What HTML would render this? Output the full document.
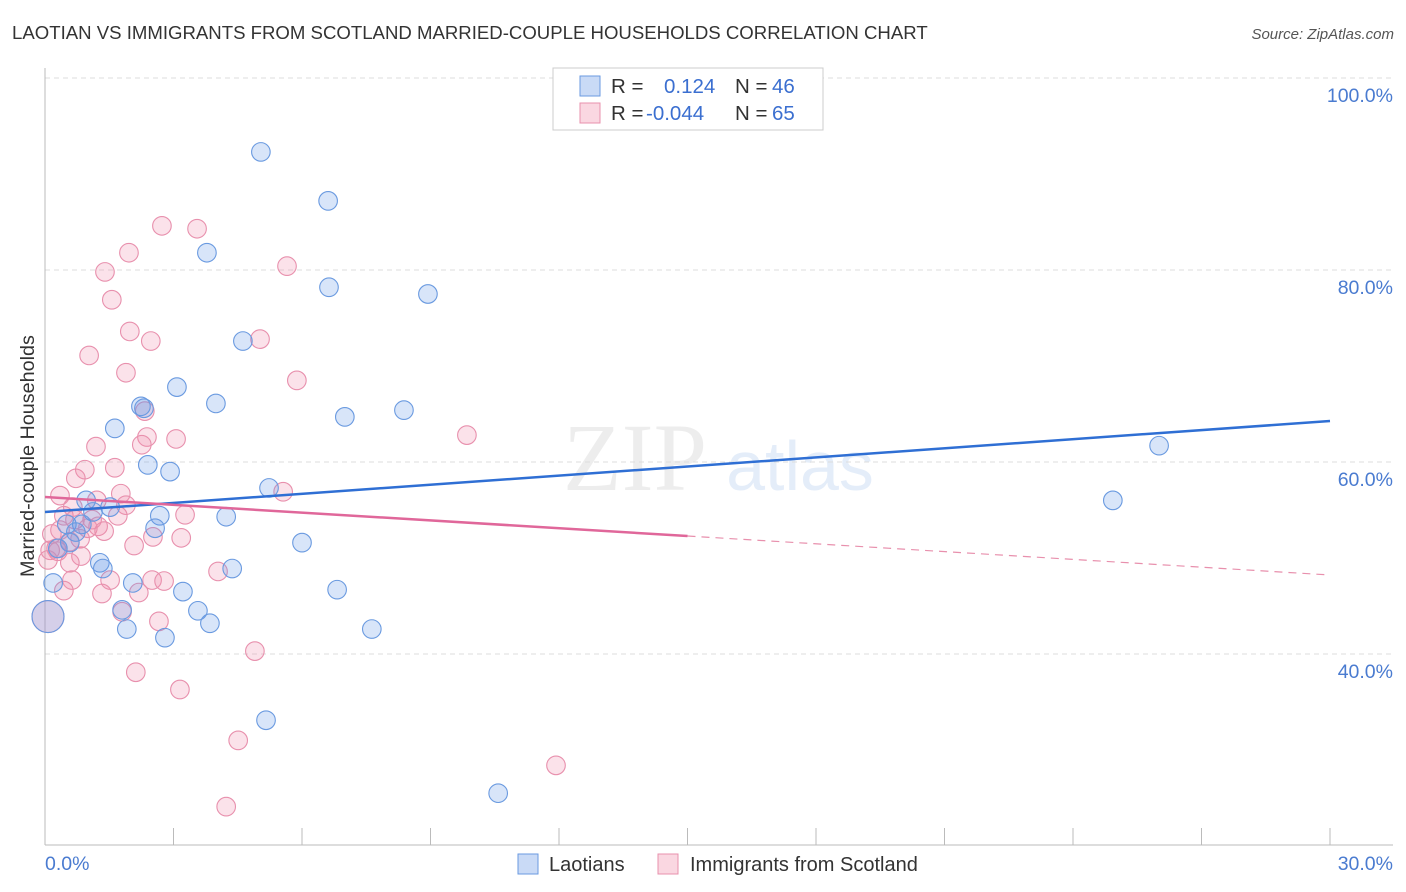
<!DOCTYPE html>
<html><head><meta charset="utf-8">
<style>
body{margin:0;background:#fff;font-family:"Liberation Sans",sans-serif;}
#wrap{position:relative;width:1406px;height:892px;overflow:hidden;}
</style></head>
<body>
<div id="wrap">
<svg id="svg" width="1406" height="892" xmlns="http://www.w3.org/2000/svg">
<text x="12" y="39" font-size="18.6" fill="#333">LAOTIAN VS IMMIGRANTS FROM SCOTLAND MARRIED-COUPLE HOUSEHOLDS CORRELATION CHART</text>
<text x="1394" y="39" font-size="15" fill="#555" font-style="italic" text-anchor="end">Source: ZipAtlas.com</text>
<text transform="translate(34,456) rotate(-90)" font-size="19.8" fill="#333" text-anchor="middle">Married-couple Households</text>
<g>
<text x="635" y="490" font-size="96" fill="#000" fill-opacity="0.07" font-family="Liberation Serif,serif" text-anchor="middle">ZIP</text>
<text x="800" y="490" font-size="70" fill="#6a9be0" fill-opacity="0.18" text-anchor="middle">atlas</text>
</g>
<g id="grid"></g>
<g id="axes"></g>
<g id="pts"></g>
<g id="lines"></g>
<g>
<rect x="553" y="68" width="270" height="62" fill="#fff" stroke="#ccc"/>
<rect x="580" y="76" width="20" height="20" fill="rgba(100,150,230,0.35)" stroke="#6a9ae0"/>
<rect x="580" y="103" width="20" height="20" fill="rgba(240,140,170,0.35)" stroke="#e890ad"/>
<text x="611" y="93" font-size="20.5" fill="#333">R = <tspan x="664" fill="#3b6fd0">0.124</tspan><tspan x="735" fill="#333">N = </tspan><tspan x="772" fill="#3b6fd0">46</tspan></text>
<text x="611" y="120" font-size="20.5" fill="#333">R = <tspan x="646" fill="#3b6fd0">-0.044</tspan><tspan x="735" fill="#333">N = </tspan><tspan x="772" fill="#3b6fd0">65</tspan></text>
</g>
<g>
<rect x="518" y="854" width="20" height="20" fill="rgba(100,150,230,0.35)" stroke="#6a9ae0"/>
<text x="549" y="871" font-size="20" fill="#333">Laotians</text>
<rect x="658" y="854" width="20" height="20" fill="rgba(240,140,170,0.35)" stroke="#e890ad"/>
<text x="690" y="871" font-size="20" fill="#333">Immigrants from Scotland</text>
</g>
</svg>
</div>
<script>
const yTicks=[40,60,80,100];
const yTickLabels=["40.0%","60.0%","80.0%","100.0%"];
const xTickLabels=["0.0%","30.0%"];
const blueX=[5.04,6.61,3.78,6.63,8.94,4.62,3.08,2.24,2.31,3.99,7.00,8.38,1.63,2.40,2.92,26.01,5.23,24.93,0.96,1.52,1.12,2.68,4.23,0.51,0.86,2.57,0.72,6.00,0.58,0.30,1.28,1.35,4.37,2.05,0.19,3.22,6.82,3.57,1.80,3.85,1.91,7.63,2.80,5.16,10.58,0.07];
const blueY=[92.3,87.2,81.8,78.2,77.5,72.6,67.8,65.8,65.6,66.1,64.7,65.4,63.5,59.7,59.0,61.7,57.3,56.0,56.0,55.3,54.8,54.4,54.3,53.5,53.5,53.1,52.7,51.6,51.6,51.0,49.5,48.9,48.9,47.4,47.4,46.5,46.7,44.5,44.6,43.2,42.6,42.6,41.7,33.1,25.5,43.9];
const pinkX=[2.73,3.55,1.96,5.65,1.40,1.56,1.98,2.47,5.02,1.03,1.89,5.88,2.33,9.85,2.38,3.06,2.26,1.19,1.63,0.93,0.72,5.56,0.35,1.77,1.21,1.89,0.65,1.70,3.27,0.44,1.24,1.00,1.38,2.52,3.18,0.16,0.82,0.58,2.08,0.26,0.30,0.84,0.07,0.58,4.04,1.52,2.50,2.78,0.63,1.33,2.19,0.44,2.66,1.80,4.90,2.12,3.15,4.51,11.93,4.23,0.07,0.35,1.10,0.12,0.70];
const pinkY=[84.6,84.3,81.8,80.4,79.8,76.9,73.6,72.6,72.8,71.1,69.3,68.5,65.3,62.8,62.6,62.4,61.8,61.6,59.4,59.2,58.3,56.9,56.5,56.7,56.0,55.5,55.3,54.4,54.5,54.4,53.3,53.1,52.8,52.2,52.1,52.5,52.0,51.7,51.3,51.0,50.7,50.2,49.8,49.5,48.6,47.7,47.7,47.6,47.7,46.3,46.4,46.6,43.4,44.4,40.3,38.1,36.3,31.0,28.4,24.1,43.9,52.9,54.0,50.8,54.0];
const bigIndexBlue=45, bigIndexPink=60;
const blueTrend=[54.79,64.27];
const pinkTrend=[56.35,48.23];
const pinkSolidEnd=15.0;

const X0=45,X1=1330;
function sx(v){return X0+(v/30)*(X1-X0);}
function sy(v){return 654-(v-40)*9.6;}
const NS="http://www.w3.org/2000/svg";
function mk(tag,attrs,parent){const e=document.createElementNS(NS,tag);for(const k in attrs)e.setAttribute(k,attrs[k]);parent.appendChild(e);return e;}
const grid=document.getElementById('grid'),axes=document.getElementById('axes'),pts=document.getElementById('pts'),lines=document.getElementById('lines');
yTicks.forEach((t,i)=>{
  const l=mk('line',{x1:X0,x2:1393,y1:sy(t),y2:sy(t),stroke:'#ddd','stroke-dasharray':'5,4'},grid);
  
  
  const tx=mk('text',{x:1393,y:sy(t)+24,'font-size':19.5,fill:'#4a7bd0','text-anchor':'end'},axes);
  tx.textContent=yTickLabels[i];
  
  
});
const ax=mk('line',{x1:X0,x2:X0,y1:68,y2:845,stroke:'#bbb'},axes);


const bx=mk('line',{x1:X0,x2:1393,y1:845,y2:845,stroke:'#bbb'},axes);


for(let i=1;i<=10;i++){
  const t=mk('line',{x1:sx(i*3),x2:sx(i*3),y1:828,y2:845,stroke:'#bbb'},axes);
  
  
}
const xl0=mk('text',{x:45,y:870,'font-size':19.5,fill:'#4a7bd0'},axes);xl0.textContent=xTickLabels[0];


const xl1=mk('text',{x:1393,y:870,'font-size':19.5,fill:'#4a7bd0','text-anchor':'end'},axes);xl1.textContent=xTickLabels[1];


function drawPts(xs,ys,fill,stroke,big,name){
  xs.forEach((x,i)=>{
    const c=mk('circle',{cx:sx(x),cy:sy(ys[i]),r:i===big?16:9.3,fill:fill,stroke:stroke,'stroke-width':1.1},pts);
    
    
  });
}
drawPts(pinkX,pinkY,'rgba(240,140,170,0.25)','#e890ad',bigIndexPink,'point-scotland');
drawPts(blueX,blueY,'rgba(100,150,230,0.25)','#6a9ae0',bigIndexBlue,'point-laotians');
const bl=mk('line',{x1:sx(0),y1:sy(blueTrend[0]),x2:sx(30),y2:sy(blueTrend[1]),stroke:'#2f6fd4','stroke-width':2.5},lines);


const pm=pinkTrend[0]+(pinkTrend[1]-pinkTrend[0])*pinkSolidEnd/30;
const pl=mk('line',{x1:sx(0),y1:sy(pinkTrend[0]),x2:sx(pinkSolidEnd),y2:sy(pm),stroke:'#e0679a','stroke-width':2.5},lines);


const pd=mk('line',{x1:sx(pinkSolidEnd),y1:sy(pm),x2:sx(30),y2:sy(pinkTrend[1]),stroke:'#e890ad','stroke-width':1.2,'stroke-dasharray':'8,6'},lines);


</script>
</body></html>
